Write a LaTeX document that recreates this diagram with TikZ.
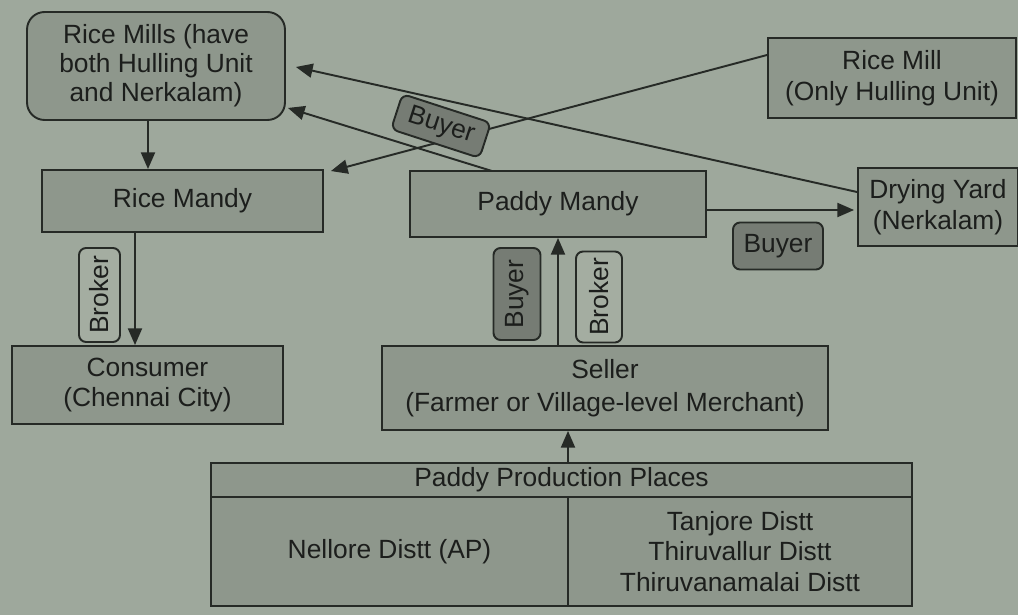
\documentclass[tikz,border=0pt]{standalone}
\usepackage{fontspec}
\setmainfont{Liberation Sans}
\usetikzlibrary{arrows.meta,calc}
\definecolor{bgc}{RGB}{158,168,156}
\definecolor{boxc}{RGB}{142,151,140}
\definecolor{buyc}{RGB}{118,124,116}
\definecolor{brkc}{RGB}{164,173,161}
\definecolor{linec}{RGB}{38,42,38}
\definecolor{txtc}{RGB}{28,30,28}
\begin{document}
\begin{tikzpicture}[x=0.02cm,y=-0.02cm,
  every node/.style={text=txtc, font=\fontsize{15}{17.5}\selectfont, align=center, inner sep=0pt},
  box/.style={draw=linec, fill=boxc, line width=1.1pt},
  buyerlbl/.style={draw=linec, fill=buyc, line width=1.1pt, rounded corners=4pt},
  brokerlbl/.style={draw=linec, fill=brkc, line width=1.1pt, rounded corners=4pt},
  arr/.style={draw=linec, line width=1.1pt, -{Triangle[length=9.5pt,width=8pt]}},
  ln/.style={draw=linec, line width=1.1pt}]
\fill[bgc] (0,0) rectangle (1018,615);
\useasboundingbox (0,0) rectangle (1018,615);

% main boxes
\node[box, rounded corners=10pt, minimum width=5.16cm, minimum height=2.16cm,
      font=\fontsize{15}{16.5}\selectfont] (rm) at (156,66) {Rice Mills (have\\both Hulling Unit\\and Nerkalam)};
\node[box, minimum width=5.62cm, minimum height=1.24cm] (rmd) at (182.5,201) {Rice Mandy};
\node[box, minimum width=5.92cm, minimum height=1.32cm] (pm) at (558,204) {Paddy Mandy};
\node[box, minimum width=4.96cm, minimum height=1.6cm] (rmh) at (892,78) {Rice Mill\\(Only Hulling Unit)};
\node[box, minimum width=3.2cm, minimum height=1.56cm] (dy) at (938,207) {Drying Yard\\(Nerkalam)};
\node[box, minimum width=5.42cm, minimum height=1.56cm] (cons) at (147.5,385) {Consumer\\(Chennai City)};
\node[box, minimum width=8.92cm, minimum height=1.68cm, font=\fontsize{15}{18.5}\selectfont] (sel) at (605,388) {Seller\\(Farmer or Village-level Merchant)};

% table
\node[box, minimum width=14.02cm, minimum height=0.68cm] (hdr) at (561.5,480) {Paddy Production Places};
\node[box, minimum width=7.14cm, minimum height=2.18cm] (lc) at (389.5,551.5) {Nellore Distt (AP)};
\node[box, minimum width=6.88cm, minimum height=2.18cm] (rc) at (740,551.5) {Tanjore Distt\\Thiruvallur Distt\\Thiruvanamalai Distt};

% connectors
\draw[arr] ($(rm.south)+(-8,0)$) -- ($(rmd.north)+(-34.5,0)$);
\draw[arr] ($(rmd.south)+(-47.5,0)$) -- ($(cons.north)+(-12.5,0)$);
\draw[arr] ($(sel.north)+(-47,0)$) -- (pm.south);
\draw[arr] ($(hdr.north)+(6.5,0)$) -- ($(sel.south)+(-37,0)$);
\draw[arr] ($(pm.east)+(0,6)$) -- ($(dy.west)+(-3,3)$);
\draw[arr] ($(dy.west)+(0,-15)$) -- ($(rm.east)+(10,1)$);
\draw[arr] ($(rmh.west)+(0,-23)$) -- ($(rmd.north east)+(7,2)$);
\draw[arr] ($(pm.north west)+(83,1)$) -- ($(rm.south east)+(2,-13)$);

% labels
\node[buyerlbl, rotate=-18, minimum width=1.86cm, minimum height=0.74cm] (b1) at (441,126) {Buyer};
\node[buyerlbl, minimum width=1.8cm, minimum height=0.94cm] (b2) at (778,246) {Buyer};
\node[buyerlbl, rotate=90, minimum width=1.84cm, minimum height=0.94cm] (b3) at (517,294) {Buyer};
\node[brokerlbl, rotate=90, minimum width=1.82cm, minimum height=0.92cm] (br1) at (599,297) {Broker};
\node[brokerlbl, rotate=90, minimum width=1.88cm, minimum height=0.82cm] (br2) at (99.5,295) {Broker};
\end{tikzpicture}
\end{document}
